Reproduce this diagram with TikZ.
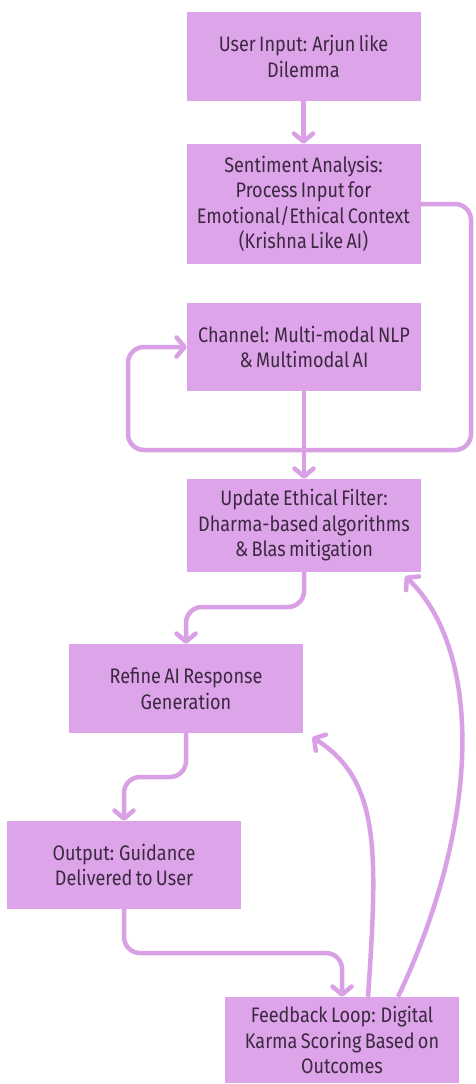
\documentclass[tikz,border=0pt]{standalone}
\usepackage{fontspec}
\setmainfont{Fira Sans}[FakeStretch=0.86,WordSpace=0.7]
\usetikzlibrary{arrows.meta}
\definecolor{boxfill}{HTML}{DEA4EA}
\definecolor{flowline}{HTML}{D9A0E6}
\definecolor{boxtext}{HTML}{3B2940}
\tikzset{
  stepbox/.style={rectangle, fill=boxfill, draw=none, text=boxtext,
    minimum width=234pt, align=center, inner sep=0pt,
    font=\fontsize{21}{25.5}\selectfont},
  flow/.style={draw=flowline, line width=4.5pt, rounded corners=16pt,
    -{Straight Barb[length=8pt,width=19pt,round]}},
}
\begin{document}
\begin{tikzpicture}[x=1pt,y=-1pt]
\useasboundingbox (0,0) rectangle (475,1084);
\fill[white] (0,0) rectangle (475,1084);

% process steps
\node[stepbox, minimum height=89pt]  (b1) at (303.5,56.5) {User Input: Arjun like\\Dilemma};
\node[stepbox, minimum height=120pt] (b2) at (303.5,204)  {Sentiment Analysis:\\Process Input for\\Emotional/Ethical Context\\(Krishna Like AI)};
\node[stepbox, minimum height=88pt]  (b3) at (304,347)    {Channel: Multi-modal NLP\\\& Multimodal AI};
\node[stepbox, minimum height=93pt]  (b4) at (304,525.5)  {Update Ethical Filter:\\Dharma-based algorithms\\\& Blas mitigation};
\node[stepbox, minimum height=89pt]  (b5) at (186,688.5)  {Refine AI Response\\Generation};
\node[stepbox, minimum height=88pt]  (b6) at (124,865)     {Output: Guidance\\Delivered to User};
\node[stepbox, minimum height=86pt]  (b7) at (342,1040)   {Feedback Loop: Digital\\Karma Scoring Based on\\Outcomes};

% routing points
\coordinate (loopR) at (471,450);
\coordinate (loopL) at (128,450);
\coordinate (k4) at (304,607);
\coordinate (k5) at (186,777);
\coordinate (k6) at (124,953);

% main flow
\draw[flow] (b1.south) -- (b2.north);
\draw[flow] (b2.east) -| (loopR) -- (loopL) |- (b3.west);
\draw[flow] (b3.south) -- (b4.north);
\draw[flow] (b4.south) -- (k4) -| (b5.north);
\draw[flow] (b5.south) -- (k5) -| (b6.north);
\draw[flow] (b6.south) -- (k6) -| (b7.north);

% feedback curves
\draw[flow] ([xshift=26pt]b7.north) .. controls (378,850) and (380,780) .. ([xshift=9pt,yshift=-4pt]b5.south east);
\draw[flow] ([xshift=56pt]b7.north) .. controls (482,820) and (482,650) .. ([xshift=-16pt,yshift=-4pt]b4.south east);
\end{tikzpicture}
\end{document}
